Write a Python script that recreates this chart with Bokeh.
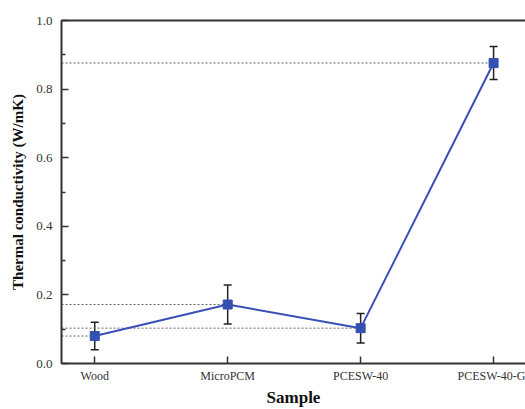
from bokeh.plotting import figure
from bokeh.models import FixedTicker, LinearAxis, Range1d, Whisker, TeeHead, ColumnDataSource
from bokeh.embed import file_html
from bokeh.resources import INLINE

samples = ["Wood", "MicroPCM", "PCESW-40", "PCESW-40-G"]
xpos = [1, 2, 3, 4]
conductivity = [0.080, 0.172, 0.103, 0.876]
error = [0.040, 0.057, 0.043, 0.048]
y_ticks = [0.0, 0.2, 0.4, 0.6, 0.8, 1.0]
y_minor = [0.1, 0.3, 0.5, 0.7, 0.9]

FONT = "Liberation Serif"

p = figure(width=525, height=409, output_backend="svg", toolbar_location=None,
           x_range=Range1d(0.75, 4.24), y_range=Range1d(0.0, 1.0),
           min_border_left=61, min_border_right=0, min_border_top=20, min_border_bottom=46)
p.outline_line_color = None
p.xgrid.visible = False
p.ygrid.visible = False
p.background_fill_color = "white"

src = ColumnDataSource(dict(x=xpos, y=conductivity,
                            lo=[v - e for v, e in zip(conductivity, error)],
                            hi=[v + e for v, e in zip(conductivity, error)],
                            x0=[p.x_range.start] * len(xpos)))

# dotted reference lines
p.segment(x0="x0", y0="y", x1="x", y1="y", source=src, line_color="#666666",
          line_width=1, line_dash="2 2")

p.line("x", "y", source=src, line_color="#3a50b8", line_width=2)

w = Whisker(base="x", lower="lo", upper="hi", source=src, line_color="#222222", line_width=1.5,
            upper_head=TeeHead(size=8, line_color="#222222", line_width=1.5),
            lower_head=TeeHead(size=8, line_color="#222222", line_width=1.5))
p.add_layout(w)

p.scatter("x", "y", source=src, marker="square", size=9, fill_color="#3450b0",
          line_color="#3450b0")

# axes
xa = p.xaxis[0]
xa.ticker = FixedTicker(ticks=xpos)
xa.major_label_overrides = {x: s for x, s in zip(xpos, samples)}
xa.axis_label = "Sample"
ya = p.yaxis[0]
ya.ticker = FixedTicker(ticks=y_ticks, minor_ticks=y_minor)
ya.major_label_overrides = {t: f"{t:.1f}" for t in y_ticks}
ya.axis_label = "Thermal conductivity (W/mK)"

for ax in (xa, ya):
    ax.axis_line_width = 2
    ax.axis_line_color = "#333333"
    ax.major_tick_in = 7
    ax.major_tick_out = 0
    ax.major_tick_line_width = 1.5
    ax.major_tick_line_color = "#333333"
    ax.minor_tick_in = 4
    ax.minor_tick_out = 0
    ax.minor_tick_line_width = 1.5
    ax.minor_tick_line_color = "#333333"
    ax.major_label_text_font = FONT
    ax.major_label_text_color = "#333333"
    ax.axis_label_text_font = FONT
    ax.axis_label_text_font_style = "bold"
    ax.axis_label_text_color = "#111111"

xa.minor_tick_line_color = None
xa.major_label_text_font_size = "12px"
xa.major_label_standoff = 5
xa.axis_label_text_font_size = "17px"
xa.axis_label_standoff = 2
ya.major_label_text_font_size = "13px"
ya.major_label_standoff = 9
ya.axis_label_text_font_size = "15px"
ya.axis_label_standoff = 7

top = LinearAxis(ticker=FixedTicker(ticks=[]), major_label_text_font_size="0px",
                 axis_line_width=2, axis_line_color="#333333",
                 major_tick_line_color=None, minor_tick_line_color=None)
p.add_layout(top, "above")

open("out.html", "w").write(file_html(p, INLINE))
